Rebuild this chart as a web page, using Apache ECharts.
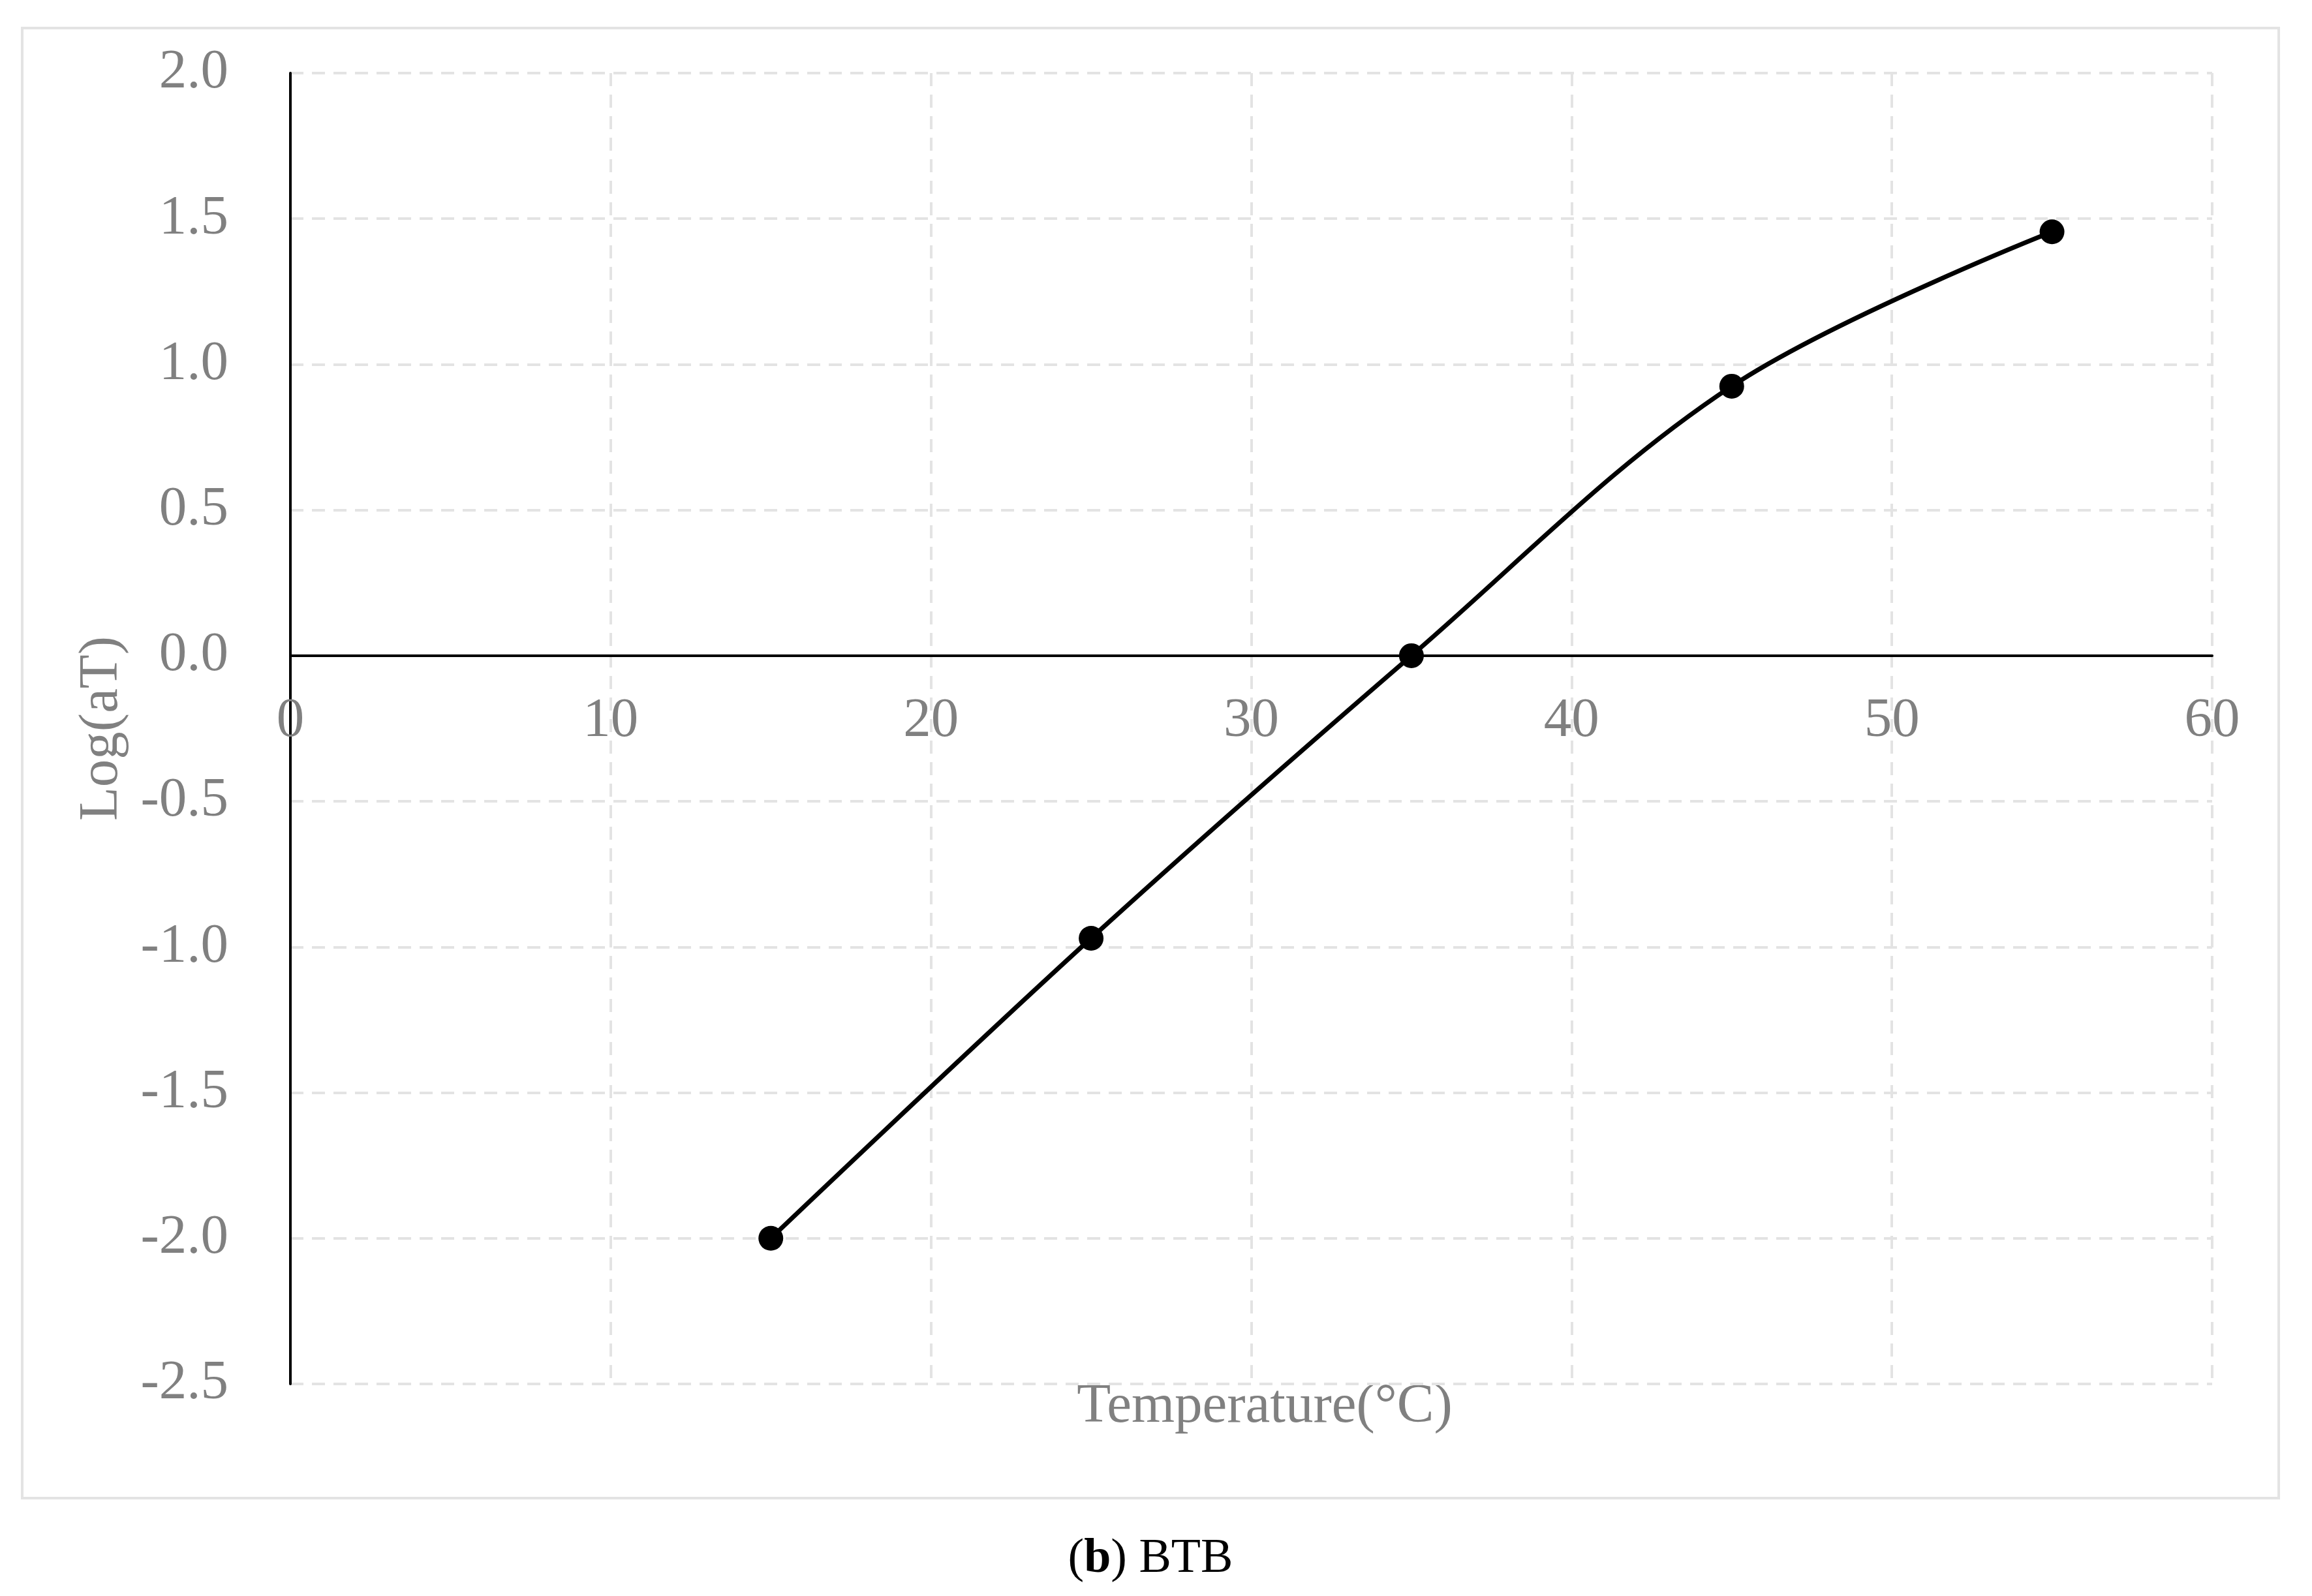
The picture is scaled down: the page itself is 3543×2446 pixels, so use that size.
<!DOCTYPE html>
<html>
<head>
<meta charset="utf-8">
<script src="https://cdn.jsdelivr.net/npm/echarts@6/dist/echarts.min.js"></script>
<style>
html,body{margin:0;padding:0;background:#fff;}
#c{width:3543px;height:2446px;}
</style>
</head>
<body>
<div id="c"></div>
<script>
// Data
const temperatures = [15, 25, 35, 45, 55];
const logAT = [-2.0, -0.97, 0.0, 0.925, 1.455];
const xTickLabels = ['0', '10', '20', '30', '40', '50', '60'];
const yTickLabels = ['-2.5', '-2.0', '-1.5', '-1.0', '-0.5', '0.0', '0.5', '1.0', '1.5', '2.0'];
const xName = 'Temperature(°C)';
const yName = 'Log(aT)';

const FONT = 'Liberation Serif';
const GRAY = '#808080';
const GRID = '#e3e3e3';

const chart = echarts.init(document.getElementById('c'));
const seriesData = temperatures.map((t, i) => [t, logAT[i]]);

chart.setOption({
  backgroundColor: '#ffffff',
  animation: false,
  grid: { left: 445, right: 153, top: 112, bottom: 325, containLabel: false },
  xAxis: {
    type: 'value', min: 0, max: 60, interval: 10,
    axisLine: { show: true, onZero: false, lineStyle: { color: '#000', width: 4 } },
    axisTick: { show: false },
    axisLabel: {
      color: GRAY, fontFamily: FONT, fontSize: 85, margin: 58,
      formatter: v => xTickLabels[Math.round(v / 10)]
    },
    splitLine: { show: true, lineStyle: { color: GRID, width: 4, type: [20, 13] } }
  },
  yAxis: {
    type: 'value', min: -2.5, max: 2, interval: 0.5,
    name: yName, nameLocation: 'middle', nameGap: 246, nameRotate: 90,
    nameTextStyle: { color: GRAY, fontFamily: FONT, fontSize: 85 },
    axisLine: { show: true, onZero: false, lineStyle: { color: '#000', width: 4 } },
    axisTick: { show: false },
    axisLabel: {
      color: GRAY, fontFamily: FONT, fontSize: 85, margin: 95,
      formatter: v => yTickLabels[Math.round((v + 2.5) / 0.5)]
    },
    splitLine: { show: true, lineStyle: { color: GRID, width: 4, type: [20, 13] } }
  },
  series: [{
    type: 'line',
    data: seriesData,
    smooth: 0.35,
    symbol: 'circle',
    symbolSize: 38,
    lineStyle: { color: '#000', width: 7 },
    itemStyle: { color: '#000' },
    z: 5
  }],
  graphic: [
    {
      type: 'rect', silent: true, z: -1,
      shape: { x: 34, y: 43, width: 3458, height: 2253 },
      style: { fill: null, stroke: '#e3e3e3', lineWidth: 4 }
    },
    {
      type: 'text', silent: true,
      x: 1938, y: 2157,
      style: {
        text: xName, fill: GRAY, fontFamily: FONT, fontSize: 85,
        align: 'center', verticalAlign: 'middle'
      }
    },
    {
      type: 'text', silent: true,
      x: 1763, y: 2390,
      style: {
        text: '({b|b}) BTB',
        fill: '#000', fontFamily: FONT, fontSize: 74,
        align: 'center', verticalAlign: 'middle',
        rich: { b: { fontWeight: 'bold', fontFamily: FONT, fontSize: 74, fill: '#000' } }
      }
    }
  ]
});

// Move the x axis (line and labels) onto y = 0, as in the reference
const yBottom = chart.convertToPixel({ yAxisIndex: 0 }, -2.5);
const yZero = chart.convertToPixel({ yAxisIndex: 0 }, 0);
chart.setOption({ xAxis: { offset: -(yBottom - yZero) } });
</script>
</body>
</html>
